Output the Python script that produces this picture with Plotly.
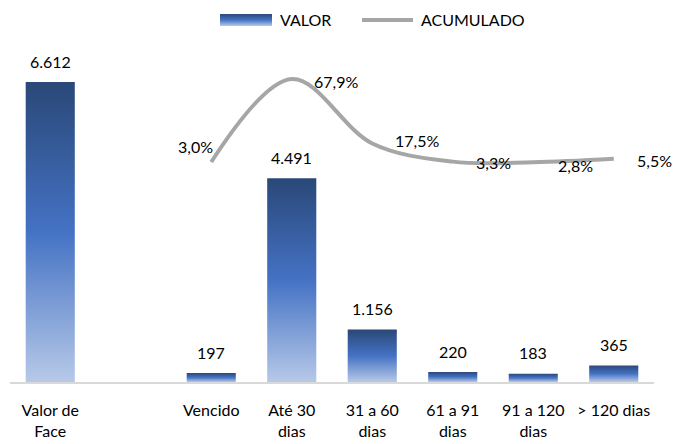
import base64
import plotly.graph_objects as go

# ---- data ----
categories = ["Valor de<br>Face", "", "Vencido", "Até 30<br>dias", "31 a 60<br>dias",
              "61 a 91<br>dias", "91 a 120<br>dias", "> 120 dias"]
valor = [6612, None, 197, 4491, 1156, 220, 183, 365]
valor_labels = ["6.612", "", "197", "4.491", "1.156", "220", "183", "365"]
acum_idx = [2, 3, 4, 5, 6, 7]
acumulado = [3.0, 67.9, 17.5, 3.3, 2.8, 5.5]
acum_labels = ["3,0%", "67,9%", "17,5%", "3,3%", "2,8%", "5,5%"]

# ---- style ----
FONT = "Lato, 'Open Sans', sans-serif"
GRAD = [[0.0, "#B7C9E8"], [0.5, "#4472C4"], [1.0, "#2A4878"]]
LINE_COLOR = "#A6A6A6"
HALF = 0.305

# page has an 8px body margin: work in window pixels, then offset
OFF = 8
W, H = 686 - OFF, 444 - OFF
PLOT_L, PLOT_R, PLOT_T, PLOT_B = 10, 654, 40, 382   # window pixels
L, R, T, B = PLOT_L - OFF, W - (PLOT_R - OFF), PLOT_T - OFF, H - (PLOT_B - OFF)
PW, PH = PLOT_R - PLOT_L, PLOT_B - PLOT_T


def px(x):
    return (x - PLOT_L) / PW


def py(y):
    return (PLOT_B - y) / PH


fig = go.Figure()

for i, v in enumerate(valor):
    if v is None:
        continue
    fig.add_trace(go.Scatter(
        x=[i - HALF, i - HALF, i + HALF, i + HALF, i - HALF],
        y=[0, v, v, 0, 0],
        mode="lines", line=dict(width=0), fill="toself",
        fillgradient=dict(type="vertical", colorscale=GRAD, start=0, stop=v),
        showlegend=False, hoverinfo="skip",
    ))

fig.add_trace(go.Scatter(
    x=acum_idx, y=acumulado, yaxis="y2", mode="lines",
    line=dict(color=LINE_COLOR, width=4, shape="spline", smoothing=1.0),
    showlegend=False, hoverinfo="skip",
))

annotations = []
for i, (v, t) in enumerate(zip(valor, valor_labels)):
    if v is None:
        continue
    annotations.append(dict(x=i, y=v, xref="x", yref="y", text=t, showarrow=False,
                            yanchor="middle", yshift=21,
                            font=dict(family=FONT, size=16, color="#000000")))

shifts = [(-16, 16), (44, -2), (45, 3), (41, -1), (42, -3), (41, -2)]
for x, v, t, (dx, dy) in zip(acum_idx, acumulado, acum_labels, shifts):
    annotations.append(dict(x=x, y=v, xref="x", yref="y2", text=t, showarrow=False,
                            xshift=dx, yshift=dy,
                            font=dict(family=FONT, size=16, color="#000000")))

svg = ("<svg xmlns='http://www.w3.org/2000/svg' width='52' height='12' viewBox='0 0 52 12' "
       "preserveAspectRatio='none'><defs><linearGradient id='g' x1='0' y1='1' x2='0' y2='0'>"
       "<stop offset='0' stop-color='#B7C9E8'/><stop offset='0.5' stop-color='#4472C4'/>"
       "<stop offset='1' stop-color='#2A4878'/></linearGradient></defs>"
       "<rect width='52' height='12' fill='url(#g)'/></svg>")
src = "data:image/svg+xml;base64," + base64.b64encode(svg.encode()).decode()

annotations.append(dict(x=px(278), y=py(20), xref="paper", yref="paper", text="VALOR",
                        showarrow=False, xanchor="left", yanchor="middle",
                        font=dict(family=FONT, size=16, color="#000000")))
annotations.append(dict(x=px(419), y=py(20), xref="paper", yref="paper", text="ACUMULADO",
                        showarrow=False, xanchor="left", yanchor="middle",
                        font=dict(family=FONT, size=16, color="#000000")))

fig.update_layout(
    width=W, height=H,
    margin=dict(l=L, r=R, t=T, b=B, autoexpand=False),
    paper_bgcolor="white", plot_bgcolor="white",
    showlegend=False,
    xaxis=dict(range=[-0.5, 7.5], tickmode="array", tickvals=list(range(8)), ticktext=categories,
               showgrid=False, zeroline=False, showline=True, linecolor="#D9D9D9", linewidth=1.5,
               ticks="outside", ticklen=13, tickcolor="rgba(0,0,0,0)",
               tickfont=dict(family=FONT, size=16, color="#000000"), fixedrange=True),
    yaxis=dict(range=[0, 7538], visible=False, showgrid=False, zeroline=False),
    yaxis2=dict(range=[-169.0, 98.4], overlaying="y", visible=False, showgrid=False, zeroline=False),
    annotations=annotations,
    images=[dict(source=src, xref="paper", yref="paper", x=px(220), y=py(14),
                 sizex=52 / PW, sizey=12 / PH, sizing="stretch", xanchor="left", yanchor="top",
                 layer="above")],
    shapes=[dict(type="line", xref="paper", yref="paper", x0=px(362), x1=px(413),
                 y0=py(20), y1=py(20), line=dict(color=LINE_COLOR, width=4))],
)

fig.write_html("out.html")
